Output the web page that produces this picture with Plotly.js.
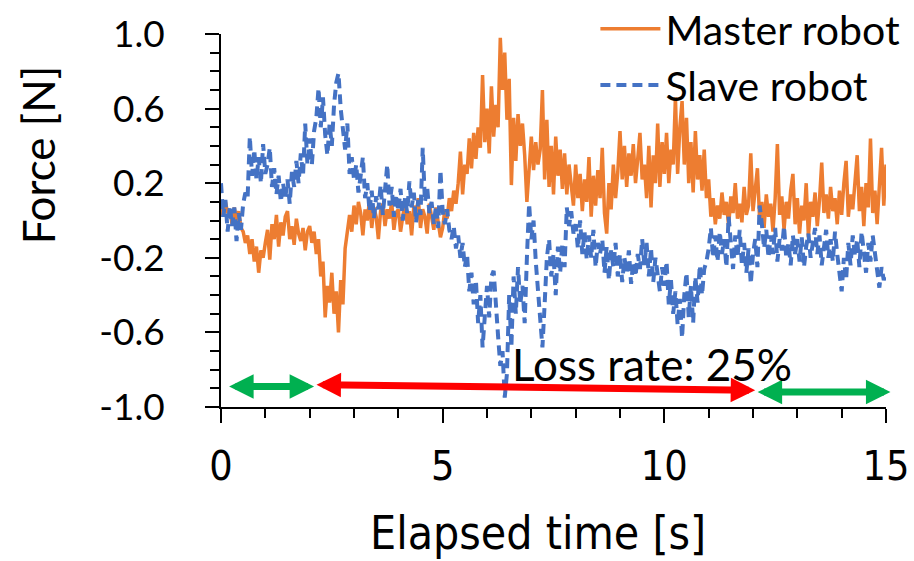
<!DOCTYPE html>
<html>
<head>
<meta charset="utf-8">
<script src="https://cdn.plot.ly/plotly-3.0.1.min.js"></script>
<style>
  html, body { margin: 0; padding: 0; background: #ffffff; }
  #chart { width: 914px; height: 561px; }
</style>
</head>
<body>
<div id="chart"></div>
<script>
// Force measured on both robots, sampled every 0.05 s over 15 s.
const sampleStep = 0.05; // seconds

const masterForce = [
  0.08, 0.02, 0.10, 0.04, 0.06, -0.02, 0.07, 0.00, 0.05, -0.04, -0.06, -0.12, -0.08, -0.18, -0.10, -0.22, -0.14, -0.28, -0.16, -0.20,
  -0.12, -0.05, -0.21, -0.02, -0.10, 0.03, -0.14, -0.01, -0.08, 0.02, 0.05, -0.10, -0.03, -0.13, 0.01, -0.07, -0.11, -0.04, -0.16, -0.06,
  -0.03, -0.12, -0.06, -0.18, -0.10, -0.30, -0.22, -0.52, -0.35, -0.44, -0.28, -0.50, -0.38, -0.60, -0.32, -0.45, -0.15, -0.05, 0.03, -0.06,
  0.08, -0.02, 0.10, 0.04, -0.08, 0.06, 0.00, 0.11, -0.04, 0.07, 0.02, -0.10, 0.05, 0.09, -0.03, 0.06, 0.01, 0.10, -0.05, 0.04,
  0.06, -0.06, 0.03, 0.10, -0.02, 0.05, -0.08, 0.08, 0.01, 0.12, -0.04, 0.06, 0.02, -0.07, 0.09, 0.03, -0.05, 0.07, 0.00, -0.09,
  -0.04, 0.06, 0.01, 0.12, 0.05, 0.16, 0.09, 0.20, 0.37, 0.14, 0.30, 0.25, 0.44, 0.28, 0.47, 0.33, 0.50, 0.39, 0.78, 0.42,
  0.60, 0.36, 0.72, 0.45, 0.62, 0.50, 0.98, 0.70, 0.90, 0.54, 0.76, 0.19, 0.55, 0.32, 0.57, 0.40, 0.52, 0.35, 0.10, 0.30,
  0.45, 0.27, 0.42, 0.30, 0.38, 0.70, 0.22, 0.54, 0.18, 0.40, 0.14, 0.45, 0.24, 0.38, 0.17, 0.36, 0.14, 0.30, 0.20, 0.08,
  0.30, 0.12, 0.25, 0.05, 0.22, 0.10, 0.34, 0.02, 0.24, 0.08, 0.27, 0.12, 0.39, 0.04, -0.07, 0.20, 0.06, 0.30, 0.12, 0.26,
  0.48, 0.22, 0.40, 0.18, 0.36, 0.24, 0.41, 0.20, 0.33, 0.47, 0.22, 0.30, 0.12, 0.40, 0.07, 0.35, 0.20, 0.52, 0.18, 0.42,
  0.25, 0.47, 0.20, 0.38, 0.30, 0.66, 0.25, 0.50, 0.64, 0.30, 0.55, 0.20, 0.42, 0.15, 0.48, 0.22, 0.35, 0.16, 0.38, 0.12,
  0.22, 0.02, 0.12, -0.02, 0.08, 0.01, 0.15, 0.03, 0.10, -0.03, 0.13, 0.04, 0.20, 0.01, 0.09, -0.01, 0.18, 0.03, 0.08, 0.36,
  0.05, 0.15, 0.28, 0.00, 0.10, -0.04, 0.14, 0.02, 0.09, -0.06, 0.12, 0.41, 0.03, 0.13, -0.05, 0.10, 0.01, 0.16, 0.25, -0.02,
  0.12, -0.07, 0.08, 0.00, 0.20, -0.09, 0.10, 0.02, 0.15, -0.03, 0.11, 0.31, 0.04, 0.14, 0.01, 0.18, 0.05, 0.12, -0.02, 0.16,
  0.03, 0.20, 0.32, 0.02, 0.14, 0.06, 0.22, 0.35, 0.05, 0.18, -0.03, 0.20, 0.07, 0.44, 0.04, 0.16, -0.02, 0.22, 0.39, 0.08,
  0.30
];

const slaveForce = [
  0.20, 0.02, 0.11, -0.06, 0.08, -0.03, 0.07, -0.11, 0.04, -0.05, 0.09, 0.15, 0.12, 0.45, 0.24, 0.38, 0.22, 0.34, 0.20, 0.41,
  0.25, 0.30, 0.39, 0.18, 0.28, 0.14, 0.24, 0.10, 0.20, 0.12, 0.22, 0.09, 0.26, 0.18, 0.32, 0.20, 0.36, 0.24, 0.52, 0.30,
  0.44, 0.30, 0.48, 0.55, 0.71, 0.50, 0.66, 0.46, 0.35, 0.52, 0.40, 0.62, 0.74, 0.79, 0.60, 0.50, 0.38, 0.52, 0.25, 0.34,
  0.22, 0.30, 0.15, 0.24, 0.34, 0.12, 0.20, 0.05, 0.16, 0.01, 0.13, 0.06, 0.19, 0.03, 0.15, 0.30, 0.08, 0.18, 0.02, 0.14,
  0.05, 0.17, 0.00, 0.12, 0.04, 0.21, 0.07, 0.15, -0.01, 0.11, 0.03, 0.39, 0.10, 0.18, 0.04, 0.10, -0.02, 0.08, -0.04, 0.27,
  0.05, -0.02, 0.06, -0.05, -0.10, -0.03, -0.15, -0.08, -0.20, -0.12, -0.25, -0.18, -0.38, -0.28, -0.45, -0.32, -0.55, -0.40, -0.68, -0.48,
  -0.35, -0.52, -0.30, -0.27, -0.48, -0.62, -0.78, -0.70, -0.95, -0.82, -0.40, -0.68, -0.30, -0.50, -0.25, -0.45, -0.35, -0.55, -0.20, 0.09,
  -0.10, 0.00, -0.22, -0.38, -0.55, -0.68, -0.45, -0.20, -0.10, -0.30, -0.18, -0.40, -0.14, -0.28, -0.12, -0.25, 0.07, -0.03, 0.05, -0.07,
  -0.02, -0.15, 0.00, -0.18, -0.06, -0.21, -0.08, -0.20, -0.05, -0.25, -0.12, -0.18, -0.10, -0.28, -0.14, -0.32, -0.16, -0.25, -0.12, -0.30,
  -0.18, -0.33, -0.20, -0.28, -0.16, -0.34, -0.22, -0.30, -0.18, -0.26, -0.10, -0.24, -0.12, -0.30, -0.15, -0.33, -0.20, -0.28, -0.38, -0.25,
  -0.35, -0.22, -0.45, -0.32, -0.50, -0.38, -0.56, -0.42, -0.63, -0.40, -0.28, -0.52, -0.35, -0.55, -0.30, -0.44, -0.24, -0.40, -0.26, -0.22,
  -0.15, -0.04, -0.20, -0.08, -0.22, -0.06, -0.18, -0.10, -0.25, 0.02, -0.12, -0.26, -0.08, -0.20, -0.05, -0.24, -0.12, -0.28, -0.15, -0.34,
  -0.18, -0.10, -0.25, 0.08, -0.02, -0.15, -0.05, -0.20, -0.08, -0.18, -0.04, -0.22, -0.10, -0.16, -0.03, -0.20, -0.12, -0.24, -0.08, -0.18,
  -0.10, -0.22, -0.09, -0.25, -0.14, -0.07, -0.20, -0.10, -0.04, -0.18, -0.08, -0.24, -0.12, -0.05, -0.20, -0.10, -0.22, -0.06, -0.18, -0.30,
  -0.38, -0.20, -0.32, -0.12, -0.24, -0.08, -0.19, -0.10, -0.25, -0.06, -0.16, -0.28, -0.12, -0.22, -0.08, -0.18, -0.30, -0.36, -0.25, -0.32,
  -0.28
];

// Sample times of the force readings.
const timeS = masterForce.map((_, i) => +(i * sampleStep).toFixed(2));

const seriesNames = ['Master robot', 'Slave robot'];

const xTickVals = [0, 5, 10, 15];
const xTickText = ['0', '5', '10', '15'];
const yTickVals = [-1.0, -0.6, -0.2, 0.2, 0.6, 1.0];
const yTickText = ['-1.0', '-0.6', '-0.2', '0.2', '0.6', '1.0'];

// Communication phases along the time axis (s): normal, lossy, normal.
const phaseStart = [0.15, 2.12, 12.07];
const phaseEnd = [2.10, 12.05, 15.10];
const phaseLevel = [-0.89, -0.88, -0.92];
const phaseLevelEnd = [-0.89, -0.91, -0.92];
const phaseLossy = [false, true, false];
const lossRatePercent = 25;

const calibriLike = 'Lato, "Open Sans", sans-serif';
const tahomaLike = '"DejaVu Sans Condensed", "DejaVu Sans", sans-serif';

const traces = [
  {
    x: timeS, y: masterForce, name: seriesNames[0], type: 'scatter', mode: 'lines',
    line: { color: '#ED7D31', width: 3.5 }
  },
  {
    x: timeS, y: slaveForce, name: seriesNames[1], type: 'scatter', mode: 'lines',
    line: { color: '#4472C4', width: 4, dash: '10px,6px' }
  }
];

const phaseArrows = phaseStart.map((s, i) => ({
  xref: 'x', yref: 'y', axref: 'x', ayref: 'y',
  x: phaseEnd[i], y: phaseLevelEnd[i], ax: s, ay: phaseLevel[i],
  text: '', showarrow: true,
  arrowside: 'end+start',
  arrowhead: 2, startarrowhead: 2,
  arrowsize: 0.7, startarrowsize: 0.7,
  arrowwidth: 7,
  arrowcolor: phaseLossy[i] ? '#FF0000' : '#00B050'
}));

const annotations = phaseArrows.concat([
  {
    xref: 'x', yref: 'y', x: 9.73, y: -0.77, showarrow: false,
    text: 'Loss rate: ' + lossRatePercent + '%',
    font: { family: calibriLike, size: 44, color: '#000000' },
    xanchor: 'center', yanchor: 'middle'
  },
  {
    xref: 'paper', yref: 'paper', x: 0.477, y: -0.339, showarrow: false,
    text: 'Elapsed time [s]',
    font: { family: tahomaLike, size: 46, color: '#000000' },
    xanchor: 'center', yanchor: 'middle'
  },
  {
    xref: 'paper', yref: 'paper', x: -0.275, y: 0.675, showarrow: false,
    text: 'Force [N]', textangle: -90,
    font: { family: calibriLike, size: 44, color: '#000000' },
    xanchor: 'center', yanchor: 'middle'
  }
]);

const layout = {
  width: 914, height: 561,
  margin: { l: 221, r: 28, t: 34, b: 154, autoexpand: false },
  paper_bgcolor: '#ffffff', plot_bgcolor: '#ffffff',
  showlegend: true,
  legend: {
    x: 0.563, y: 1.103, xanchor: 'left', yanchor: 'top',
    bgcolor: 'rgba(0,0,0,0)', itemwidth: 60,
    font: { family: calibriLike, size: 41, color: '#000000' }
  },
  xaxis: {
    range: [0, 15], showgrid: false, zeroline: false,
    showline: true, linecolor: '#000000', linewidth: 2,
    tickmode: 'array', tickvals: xTickVals, ticktext: xTickText,
    ticks: 'outside', ticklen: 14, tickwidth: 2, tickcolor: '#000000',
    minor: { dtick: 1, tick0: 0, ticks: 'outside', ticklen: 9, tickwidth: 2, tickcolor: '#000000' },
    tickfont: { family: tahomaLike, size: 41, color: '#000000' },
    ticklabelstandoff: 8
  },
  yaxis: {
    range: [-1, 1], showgrid: false, zeroline: false,
    showline: true, linecolor: '#000000', linewidth: 2,
    tickmode: 'array', tickvals: yTickVals, ticktext: yTickText,
    ticks: 'outside', ticklen: 14, tickwidth: 2, tickcolor: '#000000',
    minor: { dtick: 0.1, tick0: 0, ticks: 'outside', ticklen: 9, tickwidth: 2, tickcolor: '#000000' },
    tickfont: { family: calibriLike, size: 37, color: '#000000' },
    ticklabelstandoff: 33
  },
  annotations: annotations
};

Plotly.newPlot('chart', traces, layout, { staticPlot: true, displayModeBar: false });
</script>
</body>
</html>
